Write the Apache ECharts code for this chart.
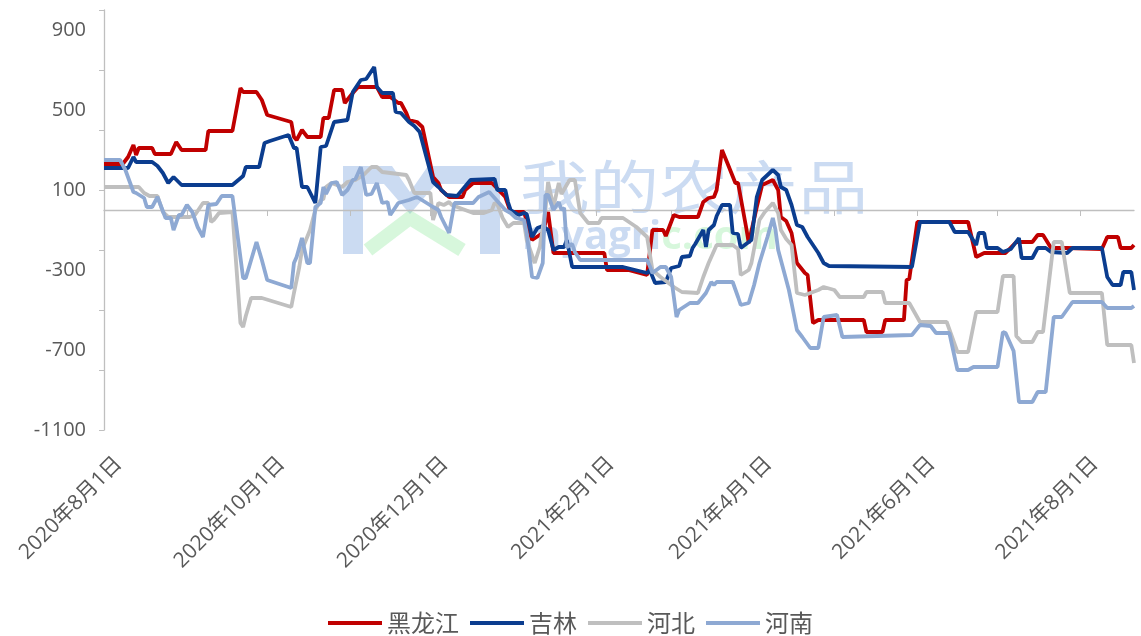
<!DOCTYPE html>
<html>
<head>
<meta charset="utf-8">
<script src="https://cdn.jsdelivr.net/npm/echarts@6/dist/echarts.min.js"></script>
<style>
html,body{margin:0;padding:0;background:#fff;}
#c{width:1141px;height:636px;}
</style>
</head>
<body>
<div id="c"></div>
<script>
const seriesNames = ['黑龙江', '吉林', '河北', '河南'];
const seriesColors = ['#C00000', '#0B3D8F', '#BFBFBF', '#8EA9D3'];

const yTickValues = [-1100, -800, -500, -200, 100, 400, 700, 1000];
const yLabelValues = [-1100, -700, -300, 100, 500, 900];
const xTickDates = ['2020-08-01','2020-09-01','2020-10-01','2020-11-01','2020-12-01','2021-01-01','2021-02-01','2021-03-01','2021-04-01','2021-05-01','2021-06-01','2021-07-01','2021-08-01'];
const xLabelDates = ['2020-08-01','2020-10-01','2020-12-01','2021-02-01','2021-04-01','2021-06-01','2021-08-01'];
const xStart = '2020-08-01';
const xEnd = '2021-08-21';

const heilongjiang = [
['2020-08-01',230],['2020-08-08',230],['2020-08-10',265],['2020-08-12',325],['2020-08-13',275],['2020-08-14',310],['2020-08-19',310],['2020-08-20',280],['2020-08-26',280],['2020-08-28',340],['2020-08-30',300],['2020-09-08',300],['2020-09-09',395],['2020-09-18',395],['2020-09-21',610],['2020-09-22',590],['2020-09-27',590],['2020-09-29',550],['2020-10-01',475],['2020-10-10',440],['2020-10-11',365],['2020-10-12',350],['2020-10-14',400],['2020-10-16',365],['2020-10-21',365],['2020-10-22',460],['2020-10-24',460],['2020-10-26',600],['2020-10-29',600],['2020-10-30',535],['2020-11-02',585],['2020-11-04',615],['2020-11-11',615],['2020-11-13',565],['2020-11-16',565],['2020-11-19',535],['2020-11-20',535],['2020-11-22',485],['2020-11-23',450],['2020-11-26',440],['2020-11-28',415],['2020-12-02',165],['2020-12-04',135],['2020-12-05',100],['2020-12-08',65],['2020-12-13',65],['2020-12-14',100],['2020-12-17',135],['2020-12-24',135],['2020-12-29',65],['2020-12-31',-10],['2021-01-05',-10],['2021-01-08',-150],['2021-01-12',-115],['2021-01-14',-10],['2021-01-16',-215],['2021-02-04',-215],['2021-02-05',-300],['2021-02-13',-300],['2021-02-20',-325],['2021-02-22',-100],['2021-02-26',-100],['2021-02-27',-130],['2021-03-02',-25],['2021-03-04',-35],['2021-03-11',-35],['2021-03-13',40],['2021-03-15',60],['2021-03-17',65],['2021-03-18',100],['2021-03-20',300],['2021-03-22',235],['2021-03-25',135],['2021-03-26',135],['2021-03-29',-85],['2021-03-30',-165],['2021-04-02',15],['2021-04-04',125],['2021-04-08',150],['2021-04-10',100],['2021-04-11',-35],['2021-04-13',-55],['2021-04-15',-115],['2021-04-17',-265],['2021-04-20',-315],['2021-04-21',-325],['2021-04-23',-565],['2021-04-25',-550],['2021-05-12',-550],['2021-05-13',-610],['2021-05-19',-610],['2021-05-20',-550],['2021-05-27',-550],['2021-05-28',-350],['2021-05-29',-345],['2021-06-01',-60],['2021-06-20',-60],['2021-06-23',-235],['2021-06-26',-215],['2021-07-04',-215],['2021-07-08',-160],['2021-07-14',-160],['2021-07-16',-125],['2021-07-18',-125],['2021-07-21',-190],['2021-07-27',-190],['2021-08-09',-195],['2021-08-11',-135],['2021-08-15',-135],['2021-08-16',-190],['2021-08-20',-190],['2021-08-21',-175]
];

const jilin = [
['2020-08-01',210],['2020-08-10',210],['2020-08-12',265],['2020-08-13',240],['2020-08-19',240],['2020-08-21',220],['2020-08-23',185],['2020-08-25',135],['2020-08-27',165],['2020-08-30',125],['2020-09-18',125],['2020-09-22',170],['2020-09-23',215],['2020-09-28',215],['2020-09-30',335],['2020-10-02',345],['2020-10-09',375],['2020-10-11',310],['2020-10-12',310],['2020-10-14',115],['2020-10-16',115],['2020-10-19',35],['2020-10-21',315],['2020-10-23',320],['2020-10-26',440],['2020-10-31',450],['2020-11-02',590],['2020-11-05',650],['2020-11-07',655],['2020-11-10',715],['2020-11-11',615],['2020-11-13',585],['2020-11-17',585],['2020-11-18',490],['2020-11-20',485],['2020-11-23',440],['2020-11-25',420],['2020-11-27',390],['2020-12-02',140],['2020-12-04',115],['2020-12-07',75],['2020-12-11',70],['2020-12-16',150],['2020-12-25',155],['2020-12-26',100],['2020-12-29',100],['2020-12-30',40],['2020-12-31',0],['2021-01-03',-25],['2021-01-05',-15],['2021-01-06',-20],['2021-01-08',-135],['2021-01-10',-90],['2021-01-12',-80],['2021-01-14',-100],['2021-01-16',-200],['2021-01-18',-185],['2021-01-20',-185],['2021-01-21',-150],['2021-01-23',-285],['2021-01-26',-285],['2021-02-11',-285],['2021-02-20',-315],['2021-02-21',-300],['2021-02-23',-365],['2021-02-27',-360],['2021-03-01',-290],['2021-03-04',-280],['2021-03-05',-235],['2021-03-08',-230],['2021-03-09',-190],['2021-03-10',-170],['2021-03-13',-100],['2021-03-14',-185],['2021-03-15',-100],['2021-03-17',-75],['2021-03-18',-30],['2021-03-20',25],['2021-03-23',25],['2021-03-24',-115],['2021-03-26',-120],['2021-03-27',-190],['2021-03-29',-170],['2021-03-31',-150],['2021-04-02',65],['2021-04-04',150],['2021-04-08',200],['2021-04-10',175],['2021-04-11',115],['2021-04-13',100],['2021-04-15',25],['2021-04-17',-75],['2021-04-19',-85],['2021-04-21',-135],['2021-04-25',-215],['2021-04-27',-265],['2021-04-29',-280],['2021-05-30',-285],['2021-06-02',-60],['2021-06-13',-60],['2021-06-15',-110],['2021-06-20',-110],['2021-06-23',-175],['2021-06-24',-115],['2021-06-26',-115],['2021-06-27',-190],['2021-07-01',-190],['2021-07-03',-210],['2021-07-06',-195],['2021-07-09',-140],['2021-07-10',-240],['2021-07-14',-240],['2021-07-16',-190],['2021-07-19',-190],['2021-07-21',-210],['2021-07-27',-215],['2021-07-29',-190],['2021-08-09',-190],['2021-08-11',-335],['2021-08-13',-375],['2021-08-16',-375],['2021-08-17',-310],['2021-08-20',-310],['2021-08-21',-400]
];

const hebei = [
['2020-08-01',115],['2020-08-14',115],['2020-08-16',85],['2020-08-18',70],['2020-08-21',70],['2020-08-23',-10],['2020-08-25',-35],['2020-09-02',-35],['2020-09-04',-25],['2020-09-07',35],['2020-09-09',35],['2020-09-10',-60],['2020-09-11',-50],['2020-09-13',-15],['2020-09-18',-10],['2020-09-21',-565],['2020-09-22',-585],['2020-09-23',-530],['2020-09-25',-440],['2020-09-29',-440],['2020-10-10',-485],['2020-10-11',-415],['2020-10-13',-285],['2020-10-14',-200],['2020-10-17',-100],['2020-10-19',0],['2020-10-21',50],['2020-10-22',55],['2020-10-23',115],['2020-10-25',135],['2020-10-29',115],['2020-10-31',140],['2020-11-03',150],['2020-11-06',175],['2020-11-09',215],['2020-11-11',215],['2020-11-13',190],['2020-11-19',180],['2020-11-22',175],['2020-11-23',150],['2020-11-25',85],['2020-12-01',85],['2020-12-02',-50],['2020-12-04',35],['2020-12-06',25],['2020-12-08',40],['2020-12-09',25],['2020-12-17',-15],['2020-12-21',-15],['2020-12-24',0],['2020-12-25',35],['2020-12-26',30],['2020-12-28',-40],['2020-12-30',-85],['2021-01-01',-65],['2021-01-05',-65],['2021-01-06',-150],['2021-01-09',-265],['2021-01-11',-180],['2021-01-13',0],['2021-01-14',140],['2021-01-16',15],['2021-01-18',135],['2021-01-19',80],['2021-01-22',150],['2021-01-24',150],['2021-01-26',-15],['2021-01-29',-65],['2021-02-02',-65],['2021-02-03',-40],['2021-02-11',-40],['2021-02-16',-85],['2021-02-20',-135],['2021-02-22',-300],['2021-02-25',-335],['2021-03-02',-385],['2021-03-05',-410],['2021-03-11',-415],['2021-03-13',-335],['2021-03-15',-265],['2021-03-18',-175],['2021-03-24',-175],['2021-03-26',-195],['2021-03-27',-325],['2021-03-30',-300],['2021-03-31',-265],['2021-04-03',-50],['2021-04-05',-10],['2021-04-08',35],['2021-04-10',-15],['2021-04-11',-100],['2021-04-13',-145],['2021-04-15',-175],['2021-04-17',-415],['2021-04-20',-425],['2021-04-25',-400],['2021-04-27',-385],['2021-05-01',-400],['2021-05-03',-435],['2021-05-12',-435],['2021-05-13',-410],['2021-05-19',-410],['2021-05-20',-465],['2021-05-29',-465],['2021-06-02',-560],['2021-06-12',-560],['2021-06-16',-710],['2021-06-20',-710],['2021-06-23',-510],['2021-07-01',-510],['2021-07-03',-330],['2021-07-07',-330],['2021-07-08',-630],['2021-07-10',-660],['2021-07-14',-660],['2021-07-16',-610],['2021-07-18',-610],['2021-07-22',-160],['2021-07-25',-160],['2021-07-28',-415],['2021-08-09',-415],['2021-08-11',-675],['2021-08-20',-675],['2021-08-21',-765]
];

const henan = [
['2020-08-01',250],['2020-08-07',250],['2020-08-09',200],['2020-08-12',90],['2020-08-13',85],['2020-08-16',60],['2020-08-17',15],['2020-08-19',15],['2020-08-21',65],['2020-08-24',-40],['2020-08-26',-40],['2020-08-27',-100],['2020-08-29',-25],['2020-08-30',-25],['2020-09-01',25],['2020-09-03',-10],['2020-09-05',-85],['2020-09-07',-135],['2020-09-09',25],['2020-09-12',30],['2020-09-14',70],['2020-09-18',70],['2020-09-22',-340],['2020-09-23',-340],['2020-09-25',-250],['2020-09-27',-160],['2020-09-29',-250],['2020-10-01',-350],['2020-10-10',-390],['2020-10-11',-265],['2020-10-12',-235],['2020-10-14',-140],['2020-10-16',-265],['2020-10-17',-265],['2020-10-19',15],['2020-10-21',35],['2020-10-22',115],['2020-10-23',80],['2020-10-25',135],['2020-10-27',140],['2020-10-29',75],['2020-10-31',100],['2020-11-02',150],['2020-11-03',155],['2020-11-05',215],['2020-11-07',75],['2020-11-09',80],['2020-11-11',135],['2020-11-13',35],['2020-11-15',40],['2020-11-16',-25],['2020-11-19',35],['2020-11-23',50],['2020-11-26',65],['2020-11-29',40],['2020-12-02',15],['2020-12-04',0],['2020-12-05',-35],['2020-12-08',-115],['2020-12-10',35],['2020-12-17',35],['2020-12-19',65],['2020-12-23',90],['2020-12-24',75],['2020-12-29',0],['2020-12-31',-15],['2021-01-02',-40],['2021-01-05',-50],['2021-01-06',-115],['2021-01-08',-335],['2021-01-10',-340],['2021-01-12',-265],['2021-01-13',75],['2021-01-14',75],['2021-01-16',0],['2021-01-18',40],['2021-01-19',0],['2021-01-20',10],['2021-01-21',-185],['2021-01-23',-170],['2021-01-24',-210],['2021-01-26',-250],['2021-02-20',-250],['2021-02-21',-280],['2021-02-22',-315],['2021-02-25',-285],['2021-02-27',-285],['2021-03-01',-335],['2021-03-03',-535],['2021-03-04',-500],['2021-03-08',-465],['2021-03-11',-465],['2021-03-14',-415],['2021-03-16',-360],['2021-03-17',-375],['2021-03-18',-360],['2021-03-24',-360],['2021-03-26',-435],['2021-03-27',-475],['2021-03-30',-465],['2021-04-01',-375],['2021-04-03',-265],['2021-04-06',-135],['2021-04-08',-40],['2021-04-09',-100],['2021-04-10',-200],['2021-04-12',-300],['2021-04-14',-400],['2021-04-15',-465],['2021-04-17',-600],['2021-04-19',-635],['2021-04-22',-690],['2021-04-25',-690],['2021-04-27',-535],['2021-05-02',-525],['2021-05-04',-635],['2021-05-30',-625],['2021-06-02',-575],['2021-06-06',-580],['2021-06-08',-615],['2021-06-13',-615],['2021-06-16',-800],['2021-06-20',-800],['2021-06-22',-785],['2021-07-01',-785],['2021-07-03',-610],['2021-07-04',-615],['2021-07-07',-705],['2021-07-09',-960],['2021-07-14',-960],['2021-07-16',-910],['2021-07-19',-910],['2021-07-22',-535],['2021-07-25',-535],['2021-07-29',-460],['2021-08-09',-460],['2021-08-11',-490],['2021-08-20',-490],['2021-08-21',-480]
];

const seriesData = [heilongjiang, jilin, hebei, henan];

function ts(s) { const p = s.split('-'); return new Date(+p[0], +p[1] - 1, +p[2]).getTime(); }
function fmtDate(v) { const d = new Date(v); return d.getFullYear() + '年' + (d.getMonth() + 1) + '月' + d.getDate() + '日'; }

const FONT = '"Open Sans", "Noto Sans CJK SC", sans-serif';
const GRAY = '#BFBFBF';
const TXT = '#595959';
const WM_BLUE = 'rgba(110,155,220,0.36)';
const WM_GREEN = 'rgba(110,225,130,0.28)';

const chart = echarts.init(document.getElementById('c'), null, { renderer: 'canvas' });

const option = {
  animation: false,
  backgroundColor: '#ffffff',
  grid: { left: 104, right: 7, top: 10, bottom: 206, containLabel: false },
  legend: {
    bottom: -4, left: 'center',
    icon: 'rect', itemWidth: 54, itemHeight: 4, itemGap: 11,
    textStyle: { color: TXT, fontSize: 24, fontFamily: '"Noto Sans CJK SC", sans-serif' },
    data: seriesNames
  },
  graphic: [
    { type: 'rect', silent: true, z: -10, shape: { x: 343, y: 166, width: 20, height: 88 }, style: { fill: WM_BLUE } },
    { type: 'polygon', silent: true, z: -10,
      shape: { points: [[363,166],[392,166],[410,192],[428,166],[500,166],[500,254],[480,254],[480,184],[436,184],[410,214],[384,184],[363,184]] },
      style: { fill: WM_BLUE } },
    { type: 'polyline', silent: true, z: -10, shape: { points: [[368, 250], [410, 218], [462, 250]] }, style: { stroke: WM_GREEN, lineWidth: 14, fill: null } },
    { type: 'text', left: 520, top: 158, z: -10, silent: true,
      style: { text: '我的农产品', font: '58px "Noto Sans CJK SC"', fill: WM_BLUE }, scaleX: 1.2 },
    { type: 'text', left: 522, top: 218, z: -10, silent: true,
      style: { text: '{b|myagri}{g|c.com}', rich: { b: { font: 'bold 40px "Open Sans"', fill: WM_BLUE }, g: { font: 'bold 40px "Open Sans"', fill: WM_GREEN } } } }
  ],
  xAxis: [
    { type: 'value', min: ts(xStart), max: ts(xEnd), position: 'bottom', scale: true,
      axisLine: { show: true, onZero: true, lineStyle: { color: GRAY, width: 1.3 } },
      axisTick: { show: true, length: 6, customValues: xTickDates.map(ts), lineStyle: { color: GRAY } },
      axisLabel: { show: false }, splitLine: { show: false } },
    { type: 'value', min: ts(xStart), max: ts(xEnd), position: 'bottom', scale: true,
      axisLine: { show: false, onZero: false }, axisTick: { show: false }, splitLine: { show: false },
      axisLabel: { show: true, customValues: xLabelDates.map(ts), formatter: fmtDate, rotate: 45, margin: 16,
        verticalAlign: 'top', padding: [10, 0, 0, 0], color: TXT, fontSize: 21, fontFamily: FONT, hideOverlap: false } }
  ],
  yAxis: [
    { type: 'value', min: -1100, max: 1000, position: 'left',
      axisLine: { show: true, lineStyle: { color: GRAY, width: 1.3 } },
      axisTick: { show: true, length: 5, customValues: yTickValues, lineStyle: { color: GRAY } },
      axisLabel: { show: false }, splitLine: { show: false } },
    { type: 'value', min: -1100, max: 1000, position: 'left',
      axisLine: { show: false }, axisTick: { show: false }, splitLine: { show: false },
      axisLabel: { show: true, customValues: yLabelValues, formatter: v => String(v), margin: 18, color: TXT, fontSize: 20, fontFamily: FONT } }
  ],
  series: seriesNames.map((name, i) => ({
    name, type: 'line', xAxisIndex: 0, yAxisIndex: 0,
    data: seriesData[i].map(p => [ts(p[0]), p[1]]),
    showSymbol: false, symbol: 'none',
    lineStyle: { color: seriesColors[i], width: 3.8 },
    itemStyle: { color: seriesColors[i] },
    z: 2 + i
  }))
};
chart.setOption(option);
</script>
</body>
</html>
